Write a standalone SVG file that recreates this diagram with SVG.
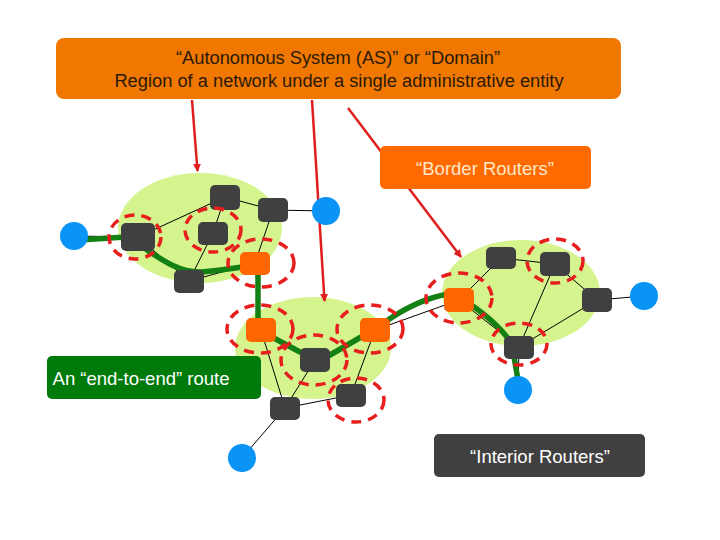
<svg xmlns="http://www.w3.org/2000/svg" width="720" height="540" viewBox="0 0 720 540">
<defs>
<style>
.blob{fill:#D5F48E}
.r{fill:#404040}
.b{fill:#FF6600}
.h{fill:#0A94F5}
.thin{stroke:#000;stroke-width:1;fill:none}
.route{stroke:#138013;stroke-width:5.5;fill:none;stroke-linecap:round;stroke-linejoin:round}
.ring{fill:none;stroke:#E81E1E;stroke-width:3.5;stroke-dasharray:10 7}
.arrow{stroke:#E01E1E;stroke-width:2.5;fill:none}
.lbl{font-family:"Liberation Sans",Arial,sans-serif;font-size:18.5px;text-anchor:middle}
.top{font-size:18.3px}
</style>
<marker id="ah" markerWidth="10" markerHeight="10" refX="7" refY="4" orient="auto" markerUnits="userSpaceOnUse">
<path d="M0,0 L8,4 L0,8 z" fill="#E01E1E"/>
</marker>
</defs>
<rect width="720" height="540" fill="#fff"/>

<g id="blobs">
<ellipse class="blob" cx="200" cy="228" rx="82" ry="55"/>
<ellipse class="blob" cx="313" cy="348" rx="78" ry="51"/>
<ellipse class="blob" cx="521" cy="293" rx="79" ry="53"/>
</g>

<g id="connectors">
<g class="thin">
<line x1="138" y1="237" x2="225" y2="197"/>
<line x1="225" y1="197" x2="273" y2="210"/>
<line x1="225" y1="197" x2="213" y2="233"/>
<line x1="273" y1="210" x2="255" y2="263"/>
<line x1="213" y1="233" x2="189" y2="281"/>
<line x1="138" y1="237" x2="189" y2="281"/>
<line x1="189" y1="281" x2="255" y2="263"/>
<line x1="273" y1="210" x2="326" y2="211"/>
<line x1="74" y1="236" x2="138" y2="237"/>
<line x1="255" y1="263" x2="261" y2="330"/>
<line x1="261" y1="330" x2="315" y2="360"/>
<line x1="261" y1="330" x2="285" y2="408"/>
<line x1="315" y1="360" x2="285" y2="408"/>
<line x1="315" y1="360" x2="375" y2="330"/>
<line x1="375" y1="330" x2="351" y2="395"/>
<line x1="285" y1="408" x2="351" y2="395"/>
<line x1="285" y1="408" x2="242" y2="458"/>
<line x1="375" y1="330" x2="459" y2="300"/>
<line x1="459" y1="300" x2="501" y2="258"/>
<line x1="501" y1="258" x2="555" y2="264"/>
<line x1="555" y1="264" x2="597" y2="300"/>
<line x1="597" y1="300" x2="644" y2="296"/>
<line x1="555" y1="264" x2="519" y2="347"/>
<line x1="597" y1="300" x2="519" y2="347"/>
<line x1="459" y1="300" x2="519" y2="347"/>
<line x1="519" y1="347" x2="518" y2="390"/>
</g>
<path class="route" d="M80,240 L125,237 M147,250 C165,262 180,272 200,272 C220,271 232,268 250,266 M258,272 L258,322 M270,336 L300,352 M330,355 L368,333 M385,322 C405,308 425,298 448,294 M470,304 C490,318 505,332 512,345 L518,380"/>
<line class="arrow" x1="192" y1="100" x2="197.5" y2="171" marker-end="url(#ah)"/>
<line class="arrow" x1="312" y1="100" x2="324.5" y2="301" marker-end="url(#ah)"/>
<line class="arrow" x1="348" y1="108" x2="461" y2="257" marker-end="url(#ah)"/>
</g>

<g id="router-l1"><rect class="r" x="121" y="223" width="34" height="28" rx="5"/></g>
<g id="router-l2"><rect class="r" x="210" y="185" width="30" height="25" rx="5"/></g>
<g id="router-l3"><rect class="r" x="258" y="198" width="30" height="24" rx="5"/></g>
<g id="router-l4"><rect class="r" x="198" y="222" width="30" height="23" rx="5"/></g>
<g id="router-l5"><rect class="b" x="240" y="252" width="30" height="23" rx="5"/></g>
<g id="router-l6"><rect class="r" x="174" y="270" width="30" height="23" rx="5"/></g>
<g id="router-m1"><rect class="b" x="246" y="318" width="30" height="24" rx="5"/></g>
<g id="router-m2"><rect class="r" x="300" y="348" width="30" height="24" rx="5"/></g>
<g id="router-m3"><rect class="b" x="360" y="318" width="30" height="24" rx="5"/></g>
<g id="router-m4"><rect class="r" x="270" y="397" width="30" height="23" rx="5"/></g>
<g id="router-m5"><rect class="r" x="336" y="384" width="30" height="23" rx="5"/></g>
<g id="router-r1"><rect class="b" x="444" y="288" width="30" height="24" rx="5"/></g>
<g id="router-r2"><rect class="r" x="486" y="247" width="30" height="22" rx="5"/></g>
<g id="router-r3"><rect class="r" x="540" y="252" width="30" height="24" rx="5"/></g>
<g id="router-r4"><rect class="r" x="582" y="288" width="30" height="24" rx="5"/></g>
<g id="router-r5"><rect class="r" x="504" y="336" width="30" height="23" rx="5"/></g>

<g id="host-1"><circle class="h" cx="74" cy="236" r="14"/></g>
<g id="host-2"><circle class="h" cx="326" cy="211" r="14"/></g>
<g id="host-3"><circle class="h" cx="242" cy="458" r="14"/></g>
<g id="host-4"><circle class="h" cx="644" cy="296" r="14"/></g>
<g id="host-5"><circle class="h" cx="518" cy="390" r="14"/></g>

<g id="rings">
<ellipse class="ring" cx="135" cy="237" rx="26" ry="22"/>
<ellipse class="ring" cx="213" cy="230" rx="28" ry="22"/>
<ellipse class="ring" cx="261" cy="263" rx="33" ry="24"/>
<ellipse class="ring" cx="260" cy="329" rx="33" ry="24"/>
<ellipse class="ring" cx="314" cy="360" rx="33" ry="25"/>
<ellipse class="ring" cx="370" cy="329" rx="33" ry="24"/>
<ellipse class="ring" cx="356" cy="400" rx="28" ry="22"/>
<ellipse class="ring" cx="459" cy="298" rx="33" ry="25"/>
<ellipse class="ring" cx="555" cy="261" rx="28" ry="22"/>
<ellipse class="ring" cx="519" cy="344" rx="28" ry="21"/>
</g>

<g id="as-label">
<rect x="56" y="38" width="565" height="61" rx="8" fill="#F07800"/>
<text class="lbl top" x="338" y="64" fill="#2A1A08">“Autonomous System (AS)” or “Domain”</text>
<text class="lbl top" x="339" y="87" fill="#2A1A08">Region of a network under a single administrative entity</text>
</g>
<g id="border-label">
<rect x="380" y="146" width="211" height="43" rx="5" fill="#FF6A00"/>
<text class="lbl" x="485" y="175" fill="#FFE8C8">“Border Routers”</text>
</g>
<g id="route-label">
<rect x="47" y="356" width="214" height="43" rx="5" fill="#007A0A"/>
<text class="lbl" x="141" y="385" fill="#fff">An “end-to-end” route</text>
</g>
<g id="interior-label">
<rect x="434" y="434" width="211" height="43" rx="5" fill="#404040"/>
<text class="lbl" x="540" y="463" fill="#fff">“Interior Routers”</text>
</g>
</svg>
